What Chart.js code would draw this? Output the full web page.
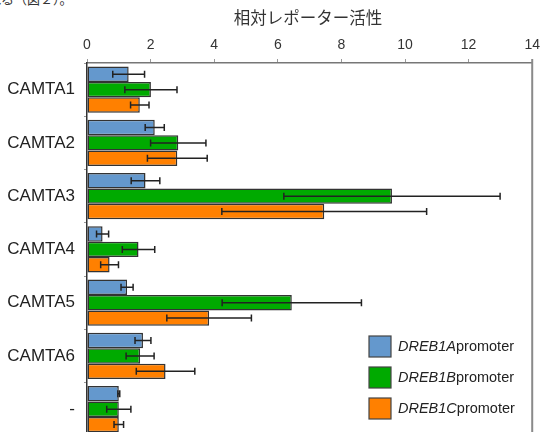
<!DOCTYPE html>
<html>
<head>
<meta charset="utf-8">
<script src="https://cdn.jsdelivr.net/npm/chart.js@4"></script>
<style>
  html, body { margin: 0; padding: 0; background: #fff; overflow: hidden; }
  #wrap { position: relative; width: 545px; height: 432px; overflow: hidden; }
  #frag { position: absolute; left: -12px; top: -11px; font: 13px "Noto Sans CJK JP", sans-serif; color: #333; white-space: nowrap; }
  canvas { position: absolute; left: 0; top: 0; }
</style>
</head>
<body>
<div id="wrap">
  <div id="frag">れる（図２）。</div>
  <canvas id="c" width="545" height="455"></canvas>
</div>
<script>
// Reporter activity per CAMTA construct, three promoters
const categories = ['CAMTA1', 'CAMTA2', 'CAMTA3', 'CAMTA4', 'CAMTA5', 'CAMTA6', '-'];
const seriesNames = ['DREB1A', 'DREB1B', 'DREB1C'];
const dreb1A = [1.31, 2.13, 1.84, 0.49, 1.26, 1.76, 1.00];
const dreb1B = [2.01, 2.87, 9.59, 1.62, 6.44, 1.67, 1.00];
const dreb1C = [1.66, 2.84, 7.46, 0.71, 3.84, 2.47, 1.00];
const errA = [0.50, 0.30, 0.45, 0.19, 0.19, 0.25, 0.03];
const errB = [0.82, 0.87, 3.40, 0.51, 2.19, 0.44, 0.38];
const errC = [0.29, 0.94, 3.22, 0.28, 1.33, 0.92, 0.15];
const xTicks = [0, 2, 4, 6, 8, 10, 12, 14];
const axisTitle = '相対レポーター活性';

const colors = ['#6498cd', '#00aa00', '#ff8000'];
const errs = [errA, errB, errC];

const errorBars = {
  id: 'errorBars',
  afterDatasetsDraw(chart) {
    const ctx = chart.ctx;
    const xs = chart.scales.x;
    ctx.save();
    ctx.strokeStyle = '#222';
    ctx.lineWidth = 1.5;
    chart.data.datasets.forEach((ds, di) => {
      const meta = chart.getDatasetMeta(di);
      meta.data.forEach((bar, i) => {
        const v = ds.data[i], e = errs[di][i];
        const x1 = xs.getPixelForValue(v - e), x2 = xs.getPixelForValue(v + e);
        const y = bar.y;
        ctx.beginPath();
        ctx.moveTo(x1, y); ctx.lineTo(x2, y);
        ctx.moveTo(x1, y - 3.5); ctx.lineTo(x1, y + 3.5);
        ctx.moveTo(x2, y - 3.5); ctx.lineTo(x2, y + 3.5);
        ctx.stroke();
      });
    });
    ctx.restore();
  }
};

const decor = {
  id: 'decor',
  afterDraw(chart) {
    const ctx = chart.ctx;
    const a = chart.chartArea;
    ctx.save();
    // right frame line
    ctx.strokeStyle = '#8a8a8a';
    ctx.lineWidth = 2;
    ctx.beginPath();
    ctx.moveTo(a.right, a.top - 4);
    ctx.lineTo(a.right, a.bottom);
    ctx.stroke();
    // axis title
    ctx.fillStyle = '#333';
    ctx.font = '16.5px "Noto Sans CJK JP", sans-serif';
    ctx.textAlign = 'center';
    ctx.textBaseline = 'middle';
    ctx.fillText(axisTitle, 308, 18);
    // legend
    const lx = 369, ly = [336, 367, 398];
    ctx.textAlign = 'left';
    chart.data.datasets.forEach((ds, di) => {
      ctx.fillStyle = ds.backgroundColor;
      ctx.fillRect(lx, ly[di], 22, 21);
      ctx.strokeStyle = '#444';
      ctx.lineWidth = 1.2;
      ctx.strokeRect(lx, ly[di], 22, 21);
      ctx.fillStyle = '#222';
      ctx.font = 'italic 14.5px "Liberation Sans", Arial, sans-serif';
      const name = seriesNames[di];
      ctx.fillText(name, 398, ly[di] + 11);
      const w = ctx.measureText(name).width;
      ctx.font = '14.5px "Liberation Sans", Arial, sans-serif';
      ctx.fillText('promoter', 398 + w, ly[di] + 11);
    });
    ctx.restore();
  }
};

new Chart(document.getElementById('c'), {
  type: 'bar',
  data: {
    labels: categories,
    datasets: [dreb1A, dreb1B, dreb1C].map((d, i) => ({
      label: seriesNames[i] + 'promoter',
      data: d,
      backgroundColor: colors[i],
      borderColor: '#333',
      borderWidth: 1.5,
      borderSkipped: false,
      categoryPercentage: 0.87,
      barPercentage: 1.0
    }))
  },
  options: {
    indexAxis: 'y',
    responsive: false,
    animation: false,
    layout: { padding: { left: 0, right: 12, top: 0, bottom: 5 } },
    plugins: { legend: { display: false }, title: { display: false }, tooltip: { enabled: false } },
    scales: {
      x: {
        position: 'top',
        min: 0, max: 14,
        afterBuildTicks(s) { s.ticks = xTicks.map(v => ({ value: v })); },
        afterFit(s) { s.height = 63; },
        ticks: { color: '#333', font: { size: 14, family: '"Liberation Sans", Arial, sans-serif' }, padding: 5 },
        grid: { drawOnChartArea: false, tickLength: 4, color: '#999' },
        border: { color: '#777', width: 1.5 }
      },
      y: {
        afterFit(s) { s.width = 87; },
        ticks: { color: '#222', font: { size: 17, family: '"Liberation Sans", Arial, sans-serif' }, padding: 9 },
        grid: { drawOnChartArea: false, tickLength: 3, color: '#999', offset: true },
        border: { color: '#333', width: 1.5 }
      }
    }
  },
  plugins: [errorBars, decor]
});
</script>
</body>
</html>
